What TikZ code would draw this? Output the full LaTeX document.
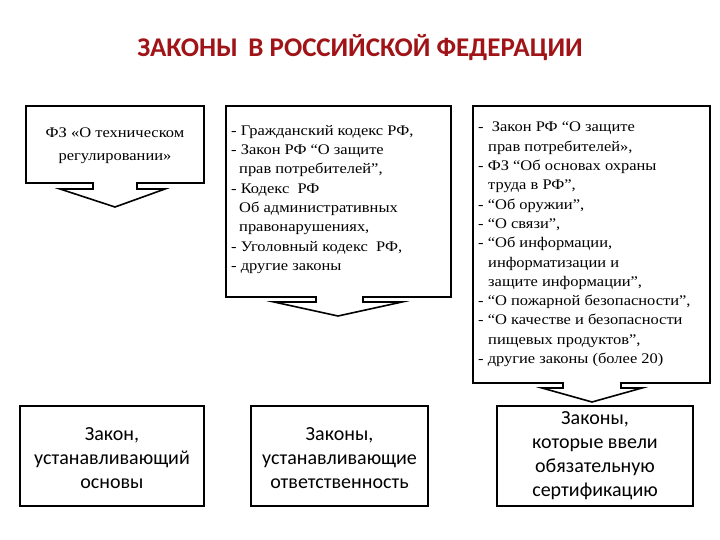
\documentclass[tikz,border=0pt]{standalone}
\usepackage{fontspec}
\setmainfont{Liberation Serif}[FakeStretch=1.12]
\newfontfamily\carlitofont{Carlito}
\definecolor{ttl}{HTML}{A01418}
\begin{document}
\begin{tikzpicture}[x=1pt,y=-1pt,
  shp/.style={draw=black,line width=1.6pt,fill=white,line join=miter},
  toptxt/.style={font=\fontsize{14.7}{19.3}\selectfont,inner sep=0pt},
  bottxt/.style={font=\carlitofont\fontsize{20}{24}\selectfont,align=center,inner sep=0pt}]
\useasboundingbox (0,0) rectangle (720,540);
\node[font=\carlitofont\bfseries\fontsize{27}{30}\selectfont,text=ttl] (title) at (360,48) {ЗАКОНЫ\, В РОССИЙСКОЙ ФЕДЕРАЦИИ};
% callout 1
\draw[shp] (26,106) -- (204,106) -- (204,183) -- (137,183) -- (137,189) -- (165,189) -- (115,207) -- (60,189) -- (93,189) -- (93,183) -- (26,183) -- cycle;
\node[toptxt,align=center,font=\fontsize{14.7}{23}\selectfont] (t1) at (115,146) {ФЗ «О техническом\\регулировании»};
% callout 2
\draw[shp] (226,106) -- (451,106) -- (451,297) -- (363,297) -- (363,302) -- (402,302) -- (338,316) -- (274,302) -- (316,302) -- (316,297) -- (226,297) -- cycle;
\node[toptxt,align=left,anchor=north west] (t2) at (231,125) {- Гражданский кодекс РФ,\\- Закон РФ “О защите\\\hspace*{8pt}прав потребителей",\\- Кодекс\ \ РФ\\\hspace*{8pt}Об административных\\\hspace*{8pt}правонарушениях,\\- Уголовный кодекс\ \ РФ,\\- другие законы};
% callout 3
\draw[shp] (473,106) -- (710,106) -- (710,383) -- (621,383) -- (621,388) -- (642,388) -- (592,402) -- (542,388) -- (563,388) -- (563,383) -- (473,383) -- cycle;
\node[toptxt,align=left,anchor=north west] (t3) at (478,122) {-\ \ Закон РФ “О защите\\\hspace*{10pt}прав потребителей»,\\- ФЗ “Об основах охраны\\\hspace*{10pt}труда в РФ",\\- “Об оружии",\\- “О связи",\\- “Об информации,\\\hspace*{10pt}информатизации и\\\hspace*{10pt}защите информации",\\- “О пожарной безопасности",\\- “О качестве и безопасности\\\hspace*{10pt}пищевых продуктов",\\- другие законы (более 20)};
% bottom boxes
\draw[shp] (20,406) rectangle (204,506);
\node[bottxt] (b1) at (112,458) {Закон,\\устанавливающий\\основы};
\draw[shp] (251,406) rectangle (428,506);
\node[bottxt] (b2) at (339.5,458) {Законы,\\устанавливающие\\ответственность};
\draw[shp] (497,406) rectangle (693,506);
\node[bottxt] (b3) at (595,456) {Законы,\\которые ввели\\обязательную\\сертификацию};
\end{tikzpicture}
\end{document}
